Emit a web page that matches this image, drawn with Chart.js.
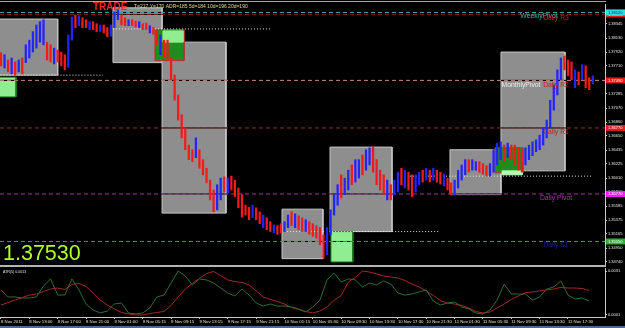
<!DOCTYPE html>
<html>
<head>
<meta charset="utf-8">
<script src="https://cdn.jsdelivr.net/npm/chart.js@4.4.0/dist/chart.umd.min.js"></script>
<style>
  html, body { margin: 0; padding: 0; background: #000; }
  #wrap { position: relative; width: 625px; height: 328px; overflow: hidden; background: #000; }
  #main { position: absolute; left: 0; top: 0; }
  #atr { position: absolute; left: 0; top: 267px; }
  .rule { position: absolute; }
</style>
</head>
<body>
<div id="wrap">
  <canvas id="main" width="625" height="265"></canvas>
  <div class="rule" style="left:0;top:1px;width:606px;height:1px;background:#a8a8a8"></div>
  <div class="rule" style="left:0;top:265px;width:606px;height:2px;background:#b4b4b4"></div>
  <canvas id="atr" width="625" height="61"></canvas>
  <div class="rule" style="left:0;top:326px;width:625px;height:2px;background:#4a6a9a"></div>
</div>
<script>
// M15 EURUSD-style chart, one candle every 2 bars, ATR sampled every 4 bars

const timeLabels = ['8 Nov 2011', '8 Nov 13:00', '8 Nov 17:00', '8 Nov 21:00', '9 Nov 01:00',
    '9 Nov 05:15', '9 Nov 09:15', '9 Nov 13:15', '9 Nov 17:15', '9 Nov 21:15', '10 Nov 01:15',
    '10 Nov 05:30', '10 Nov 09:30', '10 Nov 13:30', '10 Nov 17:30', '10 Nov 21:30', '11 Nov 01:30',
    '11 Nov 05:30', '11 Nov 09:30', '11 Nov 13:30', '11 Nov 17:30'];

const priceTicks = [1.34740, 1.34950, 1.35165, 1.35375, 1.35585, 1.35800, 1.36010, 1.36225, 1.36435,
    1.36650, 1.36860, 1.37070, 1.37285, 1.37495, 1.37710, 1.37920, 1.38130, 1.38345];

const highs = [
    1.3791, 1.3788, 1.3780, 1.3783, 1.3777, 1.3780, 1.3783, 1.3803, 1.3810, 1.3823,
    1.3833, 1.3838, 1.3841, 1.3807, 1.3803, 1.3798, 1.3795, 1.3792, 1.3788, 1.3818,
    1.3845, 1.3848, 1.3847, 1.3844, 1.3841, 1.3838, 1.3838, 1.3835, 1.3833, 1.3833,
    1.3829, 1.3833, 1.3853, 1.3856, 1.3848, 1.3844, 1.3841, 1.3841, 1.3839, 1.3838,
    1.3835, 1.3836, 1.3832, 1.3829, 1.3826, 1.3818, 1.3810, 1.3810, 1.3783, 1.3757,
    1.3727, 1.3697, 1.3677, 1.3651, 1.3644, 1.3662, 1.3644, 1.3629, 1.3616, 1.3598,
    1.3583, 1.3591, 1.3601, 1.3603, 1.3601, 1.3604, 1.3598, 1.3586, 1.3576, 1.3560,
    1.3557, 1.3560, 1.3556, 1.3550, 1.3545, 1.3541, 1.3535, 1.3530, 1.3529, 1.3532,
    1.3535, 1.3545, 1.3550, 1.3547, 1.3544, 1.3541, 1.3538, 1.3535, 1.3532, 1.3529,
    1.3526, 1.3515, 1.3526, 1.3553, 1.3576, 1.3591, 1.3606, 1.3601, 1.3613, 1.3621,
    1.3629, 1.3629, 1.3636, 1.3644, 1.3647, 1.3648, 1.3629, 1.3613, 1.3606, 1.3598,
    1.3591, 1.3598, 1.3610, 1.3616, 1.3613, 1.3610, 1.3606, 1.3606, 1.3610, 1.3613,
    1.3616, 1.3613, 1.3616, 1.3613, 1.3610, 1.3607, 1.3601, 1.3594, 1.3598, 1.3613,
    1.3621, 1.3629, 1.3629, 1.3629, 1.3626, 1.3626, 1.3623, 1.3620, 1.3623, 1.3644,
    1.3654, 1.3656, 1.3651, 1.3654, 1.3651, 1.3651, 1.3647, 1.3641, 1.3647, 1.3651,
    1.3656, 1.3659, 1.3666, 1.3677, 1.3689, 1.3719, 1.3742, 1.3765, 1.3783, 1.3786,
    1.3780, 1.3777, 1.3765, 1.3762, 1.3773, 1.3771, 1.3753, 1.3756];

const lows = [
    1.3771, 1.3768, 1.3762, 1.3759, 1.3757, 1.3762, 1.3759, 1.3776, 1.3783, 1.3792,
    1.3798, 1.3807, 1.3803, 1.3780, 1.3777, 1.3774, 1.3777, 1.3771, 1.3765, 1.3769,
    1.3810, 1.3829, 1.3832, 1.3829, 1.3829, 1.3826, 1.3826, 1.3823, 1.3823, 1.3821,
    1.3815, 1.3816, 1.3829, 1.3841, 1.3833, 1.3832, 1.3832, 1.3832, 1.3830, 1.3829,
    1.3826, 1.3826, 1.3821, 1.3819, 1.3803, 1.3788, 1.3785, 1.3780, 1.3750, 1.3719,
    1.3689, 1.3662, 1.3644, 1.3629, 1.3626, 1.3632, 1.3616, 1.3606, 1.3594, 1.3568,
    1.3550, 1.3553, 1.3568, 1.3580, 1.3579, 1.3583, 1.3573, 1.3556, 1.3542, 1.3545,
    1.3538, 1.3541, 1.3538, 1.3532, 1.3526, 1.3523, 1.3520, 1.3518, 1.3516, 1.3518,
    1.3520, 1.3526, 1.3529, 1.3526, 1.3523, 1.3520, 1.3520, 1.3516, 1.3513, 1.3510,
    1.3500, 1.3480, 1.3485, 1.3515, 1.3545, 1.3560, 1.3571, 1.3576, 1.3583, 1.3591,
    1.3595, 1.3601, 1.3606, 1.3613, 1.3621, 1.3610, 1.3591, 1.3583, 1.3576, 1.3568,
    1.3568, 1.3576, 1.3580, 1.3591, 1.3586, 1.3583, 1.3573, 1.3580, 1.3591, 1.3595,
    1.3598, 1.3595, 1.3598, 1.3595, 1.3592, 1.3589, 1.3583, 1.3576, 1.3576, 1.3586,
    1.3598, 1.3606, 1.3610, 1.3613, 1.3613, 1.3610, 1.3607, 1.3604, 1.3604, 1.3610,
    1.3621, 1.3629, 1.3626, 1.3632, 1.3629, 1.3621, 1.3613, 1.3610, 1.3621, 1.3629,
    1.3635, 1.3641, 1.3644, 1.3651, 1.3662, 1.3677, 1.3704, 1.3727, 1.3750, 1.3765,
    1.3756, 1.3750, 1.3738, 1.3742, 1.3750, 1.3738, 1.3735, 1.3744];

// 1 = up candle (blue), 0 = down candle (red)
const bull = [
    0, 1, 0, 1, 0, 1, 0, 1, 1, 1, 1, 1, 1, 0, 0, 1, 0, 0, 0, 1,
    1, 0, 1, 0, 0, 1, 0, 0, 1, 0, 0, 1, 1, 1, 0, 0, 1, 0, 0, 1,
    0, 0, 1, 0, 0, 1, 0, 0, 0, 0, 0, 0, 0, 0, 0, 1, 0, 0, 0, 0,
    0, 1, 1, 0, 1, 0, 0, 0, 0, 0, 0, 1, 0, 0, 1, 0, 0, 1, 0, 0,
    1, 1, 0, 1, 0, 0, 1, 0, 0, 0, 0, 0, 1, 1, 1, 1, 0, 1, 1, 0,
    1, 1, 0, 1, 1, 0, 0, 0, 0, 1, 0, 1, 1, 0, 1, 0, 0, 1, 1, 0,
    1, 0, 1, 0, 0, 1, 0, 0, 1, 1, 1, 1, 0, 1, 1, 0, 0, 0, 1, 1,
    1, 1, 0, 1, 0, 0, 0, 0, 1, 1, 1, 1, 1, 1, 1, 1, 1, 1, 1, 0,
    0, 0, 1, 0, 1, 0, 0, 1];

const levelNames = ['WeeklyPivot', 'Daily R3', 'MonthlyPivot', 'Daily R2', 'Daily R1', 'Daily Pivot', 'Daily S1'];
const levelValues = [1.3852, 1.3849, 1.3749, 1.3749, 1.3677, 1.3577, 1.3505];

// session range boxes (bar index, price)
const boxStart = [-2, 63.2, 90.9, 158.6, 185.7, 253.4, 282.2];
const boxEnd = [32, 90.9, 127, 181.7, 220.7, 282.2, 318.3];
const boxHigh = [1.3842, 1.3859, 1.3807, 1.3554, 1.3648, 1.3644, 1.3792];
const boxLow = [1.3757, 1.3776, 1.3548, 1.3479, 1.3520, 1.3576, 1.3612];

// green signal boxes
const markStart = [-2, 86.9, 91.4, 186.2, 278.8, 282.8];
const markEnd = [8.5, 103.3, 102.7, 198.6, 294.6, 294.1];
const markHigh = [1.3754, 1.3826, 1.3824, 1.3520, 1.3647, 1.3612];
const markLow = [1.3724, 1.3779, 1.3807, 1.3474, 1.3609, 1.3606];

// dotted range lines
const dotStart = [-2, 59.8, 158.1, 230.8];
const dotEnd = [57.6, 152.4, 247.7, 333.5];
const dotPrice = [1.3757, 1.3827, 1.3520, 1.3604];

const atrFast = [
    0.00181, 0.00133, 0.00133, 0.00126, 0.00126, 0.00133, 0.00208, 0.00256, 0.00146, 0.00146,
    0.00256, 0.00181, 0.00085, 0.00044, 0.00024, 0.00037, 0.00085, 0.00092, 0.00024, 0.00017,
    0.00024, 0.00058, 0.00133, 0.00146, 0.00228, 0.00310, 0.00276, 0.00215, 0.00256, 0.00249,
    0.00228, 0.00194, 0.00160, 0.00140, 0.00187, 0.00146, 0.00092, 0.00071, 0.00085, 0.00071,
    0.00071, 0.00065, 0.00051, 0.00030, 0.00065, 0.00112, 0.00249, 0.00296, 0.00235, 0.00256,
    0.00249, 0.00201, 0.00228, 0.00215, 0.00242, 0.00221, 0.00160, 0.00146, 0.00153, 0.00167,
    0.00181, 0.00105, 0.00078, 0.00092, 0.00099, 0.00065, 0.00051, 0.00024, 0.00017, 0.00044,
    0.00112, 0.00221, 0.00153, 0.00153, 0.00153, 0.00112, 0.00133, 0.00187, 0.00201, 0.00242,
    0.00146, 0.00119, 0.00126, 0.00105];

const atrSlow = [
    0.00078, 0.00095, 0.00112, 0.00129, 0.00146, 0.00153, 0.00170, 0.00187, 0.00194, 0.00184,
    0.00218, 0.00225, 0.00204, 0.00160, 0.00112, 0.00078, 0.00051, 0.00027, 0.00017, 0.00010,
    0.00010, 0.00020, 0.00027, 0.00034, 0.00075, 0.00133, 0.00187, 0.00225, 0.00259, 0.00293,
    0.00307, 0.00279, 0.00249, 0.00238, 0.00232, 0.00215, 0.00174, 0.00133, 0.00116, 0.00102,
    0.00085, 0.00061, 0.00048, 0.00034, 0.00024, 0.00037, 0.00065, 0.00109, 0.00143, 0.00235,
    0.00266, 0.00310, 0.00303, 0.00290, 0.00276, 0.00269, 0.00262, 0.00245, 0.00221, 0.00201,
    0.00174, 0.00143, 0.00109, 0.00092, 0.00085, 0.00075, 0.00058, 0.00034, 0.00024, 0.00030,
    0.00058, 0.00085, 0.00116, 0.00140, 0.00163, 0.00167, 0.00174, 0.00181, 0.00187, 0.00198,
    0.00194, 0.00194, 0.00191, 0.00177];

const lastPrice = '1.37530';
const infoText = 'T=217 Y=170 ADR=185 5d=184 10d=196 20d=190';
const atrText = 'ATR(5) 0.0013';

const X_MIN = -0.56, X_MAX = 340.9;
const BAR_STEP = 2, ATR_STEP = 4, LABEL_STEP = 16;
const FONT = '"Liberation Sans", Arial, sans-serif';

// styles
const levelLine = ['#46a8a8', '#8e1c1c', '#c47e7e', '#c47e7e', '#a42a2a', '#9c3c9c', '#5a8a5a'];
const levelText = ['#3cb8b8', '#c42222', '#f0f0f0', '#c42222', '#c42222', '#b032b0', '#1e1e8e'];
const levelTextX = [-66, -49, -84, -49, -49, -49, -49];
const levelTextDy = [3.5, 3.5, 4.5, 4.5, 3.7, 4, 4];
const levelTag = ['#30e0e0', '#e01c1c', null, '#e01c1c', '#e01c1c', '#f020f0', '#30b030'];
const markFill = ['#90ee90', '#1e8c1e', '#90ee90', '#90ee90', '#1e8c1e', '#b4ffb4'];
const markEdge = ['#1e7a1e', '#b83030', '#90ee90', '#1e7a1e', '#b83030', '#b4ffb4'];

function fillSet(x0, x1, hi, lo, color) {
    return { type: 'line', data: [{ x: x0, y: hi }, { x: x1, y: hi }], fill: { value: lo },
        backgroundColor: color, borderWidth: 0, pointRadius: 0 };
}
function edgeSet(x0, x1, hi, lo, color) {
    return { type: 'line', data: [{ x: x0, y: lo }, { x: x0, y: hi }, { x: x1, y: hi }, { x: x1, y: lo }, { x: x0, y: lo }],
        fill: false, borderColor: color, borderWidth: 1, pointRadius: 0 };
}
function hLine(x0, x1, v, color, dash) {
    return { type: 'line', data: [{ x: x0, y: v }, { x: x1, y: v }], fill: false,
        borderColor: color, borderWidth: 1, borderDash: dash, pointRadius: 0 };
}

// build bottom-most first
const sets = [];
boxStart.forEach((x0, i) => {
    sets.push(fillSet(x0, boxEnd[i], boxHigh[i], boxLow[i], '#8e8e8e'));
    sets.push(edgeSet(x0, boxEnd[i], boxHigh[i], boxLow[i], '#c6c6c6'));
});
markStart.forEach((x0, i) => {
    sets.push(fillSet(x0, markEnd[i], markHigh[i], markLow[i], markFill[i]));
    sets.push(edgeSet(x0, markEnd[i], markHigh[i], markLow[i], markEdge[i]));
});
levelValues.forEach((v, i) => {
    sets.push(hLine(X_MIN, X_MAX, v, '#000000', []));
    sets.push(hLine(X_MIN, X_MAX, v, levelLine[i], [4, 3]));
});
dotStart.forEach((x0, i) => sets.push(hLine(x0, dotEnd[i], dotPrice[i], '#e8e8e8', [1, 2])));
sets.push({
    type: 'bar',
    data: highs.map((h, i) => ({ x: i * BAR_STEP, y: [lows[i], h] })),
    backgroundColor: bull.map(b => b ? '#2424ff' : '#f41a1a'),
    barThickness: 1.6, grouped: false, borderWidth: 0
});
sets.forEach((s, i) => { s.order = sets.length - i; });

const overlay = {
    id: 'overlay',
    afterDraw(chart) {
        const { ctx, chartArea, scales: { y } } = chart;
        ctx.save();
        ctx.textBaseline = 'middle';
        levelNames.forEach((name, i) => {
            const py = y.getPixelForValue(levelValues[i]);
            ctx.font = '6.8px ' + FONT;
            ctx.fillStyle = levelText[i];
            ctx.textAlign = 'center';
            ctx.fillText(name, chartArea.right + levelTextX[i], py + levelTextDy[i]);
        });
        for (let i = levelNames.length - 1; i >= 0; i--) {
            if (!levelTag[i]) continue;
            const py = y.getPixelForValue(levelValues[i]);
            ctx.fillStyle = levelTag[i];
            ctx.fillRect(chartArea.right + 1, py - 3, 19, 6);
            ctx.fillStyle = i === 0 ? '#003838' : '#ffffff';
            ctx.font = '4px ' + FONT;
            ctx.textAlign = 'left';
            ctx.fillText(levelValues[i].toFixed(5), chartArea.right + 3, py + 0.3);
        }
        ctx.textAlign = 'left';
        ctx.font = 'bold 10px ' + FONT;
        ctx.fillStyle = '#e82828';
        ctx.fillText('TRADE', 93, 7);
        ctx.font = '5px ' + FONT;
        ctx.fillStyle = '#e4dc8c';
        ctx.fillText(infoText, 134, 6.5);
        ctx.textBaseline = 'alphabetic';
        ctx.font = '21.5px ' + FONT;
        ctx.fillStyle = '#adff2f';
        ctx.fillText(lastPrice, 3, 260);
        ctx.restore();
    }
};

new Chart(document.getElementById('main'), {
    type: 'bar',
    data: { datasets: sets },
    options: {
        responsive: false, animation: false, events: [],
        layout: { padding: { top: 4, bottom: 1, left: 0, right: 0 } },
        plugins: { legend: { display: false }, tooltip: { enabled: false } },
        scales: {
            x: { type: 'linear', min: X_MIN, max: X_MAX, offset: false, display: false },
            y: {
                position: 'right', min: 1.34709, max: 1.38648,
                afterBuildTicks: s => { s.ticks = priceTicks.map(v => ({ value: v })); },
                afterFit: s => { s.width = 20; s.paddingTop = 0; s.paddingBottom = 0; },
                ticks: { callback: v => v.toFixed(5), color: '#e6e6e6', font: { family: FONT, size: 4 }, padding: 1, autoSkip: false },
                grid: { drawOnChartArea: false, tickLength: 2, color: '#c8c8c8' },
                border: { display: true, color: '#c8c8c8' }
            }
        }
    },
    plugins: [overlay]
});

const atrLabel = {
    id: 'atrLabel',
    afterDraw(chart) {
        const ctx = chart.ctx;
        ctx.save();
        ctx.font = '3.6px ' + FONT;
        ctx.fillStyle = '#e0e0e0';
        ctx.textBaseline = 'middle';
        ctx.fillText(atrText, 3, 5);
        ctx.restore();
    }
};

new Chart(document.getElementById('atr'), {
    type: 'line',
    data: {
        datasets: [
            { data: atrFast.map((v, i) => ({ x: i * ATR_STEP, y: v })), borderColor: '#2e6e2e', borderWidth: 1, pointRadius: 0, fill: false },
            { data: atrSlow.map((v, i) => ({ x: i * ATR_STEP, y: v })), borderColor: '#a42828', borderWidth: 1, pointRadius: 0, fill: false }
        ]
    },
    options: {
        responsive: false, animation: false, events: [],
        layout: { padding: { top: 1, bottom: 0, left: 0, right: 0 } },
        plugins: { legend: { display: false }, tooltip: { enabled: false } },
        scales: {
            x: {
                type: 'linear', min: X_MIN, max: X_MAX,
                afterBuildTicks: s => { s.ticks = timeLabels.map((_, i) => ({ value: i * LABEL_STEP })); },
                afterFit: s => { s.height = 11; s.paddingLeft = 0; s.paddingRight = 0; },
                ticks: { callback: (v, i) => timeLabels[i], align: 'start', maxRotation: 0, minRotation: 0,
                    autoSkip: false, padding: 0, color: '#e0e0e0', font: { family: FONT, size: 4.3 } },
                grid: { drawOnChartArea: false, tickLength: 2, color: '#c8c8c8' },
                border: { display: true, color: '#c8c8c8' }
            },
            y: {
                position: 'right', min: -0.0000364, max: 0.003305,
                afterBuildTicks: s => { s.ticks = [{ value: 0.0031 }, { value: 0.0001 }]; },
                afterFit: s => { s.width = 20; s.paddingTop = 0; s.paddingBottom = 0; },
                ticks: { callback: v => v.toFixed(4), color: '#e6e6e6', font: { family: FONT, size: 4 }, padding: 1, autoSkip: false },
                grid: { drawOnChartArea: false, tickLength: 2, color: '#c8c8c8' },
                border: { display: true, color: '#c8c8c8' }
            }
        }
    },
    plugins: [atrLabel]
});
</script>
</body>
</html>
